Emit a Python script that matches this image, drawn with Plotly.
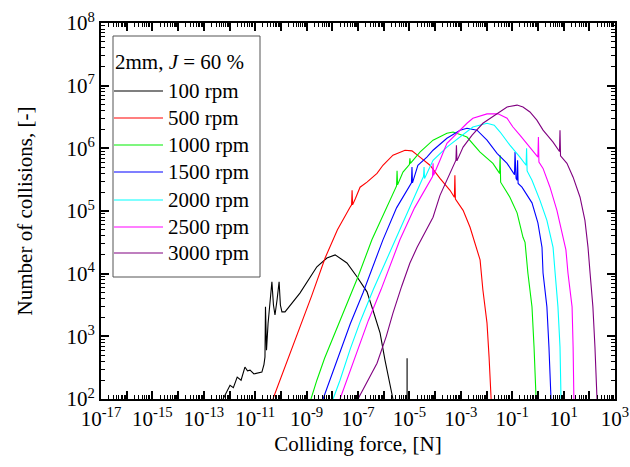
import plotly.graph_objects as go

# ---------------- data (log10 of force [N], log10 of count [-]) ----------------
series_labels = ["100 rpm", "500 rpm", "1000 rpm", "1500 rpm", "2000 rpm", "2500 rpm", "3000 rpm"]
series_colors = ["#000000", "#ff0000", "#00ee00", "#0000ff", "#00ffff", "#ff00ff", "#800080"]

force_exp_100 = [-12.25, -12.1, -11.98, -11.85, -11.7, -11.55, -11.40, -11.3, -11.20, -11.05, -10.89, -10.74,
                 -10.66, -10.62, -10.60, -10.58, -10.56, -10.50, -10.42, -10.35, -10.29, -10.23, -10.15, -10.07,
                 -10.02, -9.96, -9.84, -9.26, -8.60, -8.21, -7.89, -7.43, -7.04, -6.65, -6.42, -6.14, -5.95,
                 -5.68, -5.64, None, -5.09, -5.09]
count_exp_100 = [2.0, 2.12, 2.22, 2.18, 2.35, 2.30, 2.51, 2.45, 2.46, 2.40, 2.41, 2.43,
                 2.55, 2.67, 3.47, 2.80, 2.78, 3.2, 3.58, 3.87, 3.5, 3.34, 3.58, 3.87,
                 3.5, 3.39, 3.39, 3.69, 4.11, 4.25, 4.30, 4.17, 3.95, 3.71, 3.42, 3.05, 2.62,
                 2.06, 2.0, None, 2.0, 2.65]

force_exp_500 = [-10.31, -9.8, -9.3, -8.8, -8.28, -7.8, -7.31, -7.25, -7.23, -7.21, -7.1, -6.92, -6.65, -6.26,
                 -6.03, -5.64, -5.17, -4.9, -4.59, -4.20, -3.81, -3.42, -3.25, -3.23, -3.21, -2.91, -2.64,
                 -2.45, -2.25, -2.14, -1.98, -1.90, -1.82]
count_exp_500 = [2.0, 2.55, 3.1, 3.65, 4.25, 4.7, 5.06, 5.10, 5.33, 5.10, 5.2, 5.38, 5.46, 5.60,
                 5.73, 5.89, 5.97, 5.96, 5.86, 5.73, 5.52, 5.33, 5.22, 5.57, 5.19, 5.01, 4.74,
                 4.49, 4.22, 3.74, 3.21, 2.67, 2.0]

force_exp_1000 = [-8.83, -8.6, -8.3, -7.9, -7.5, -7.0, -6.46, -6.0, -5.6, -5.50, -5.48, -5.46, -5.25, -5.0,
                  -4.98, -4.96, -4.59, -4.08, -3.54, -3.30, -2.76, -2.25, -1.75, -1.49, -1.47, -1.45, -1.09,
                  -0.81, -0.58, -0.50, -0.39, -0.23, -0.15, -0.07]
count_exp_1000 = [2.0, 2.3, 2.65, 3.05, 3.45, 3.95, 4.54, 4.95, 5.3, 5.40, 5.64, 5.42, 5.62, 5.74,
                  5.84, 5.76, 5.94, 6.13, 6.24, 6.26, 6.18, 5.94, 5.76, 5.60, 5.89, 5.46, 5.22,
                  4.97, 4.58, 4.50, 4.01, 3.47, 2.83, 2.0]

force_exp_1500 = [-8.36, -8.1, -7.7, -7.3, -6.8, -6.03, -5.5, -4.92, -4.90, -4.88, -4.67, -4.32, -4.08, -3.54,
                  -3.03, -2.76, -2.37, -1.98, -1.59, -1.20, -0.91, -0.89, -0.85, -0.81, -0.79, -0.77, -0.62,
                  -0.23, 0.0, 0.16, 0.20, 0.35, 0.43, 0.51]
count_exp_1500 = [2.0, 2.3, 2.75, 3.2, 3.7, 4.54, 5.05, 5.45, 5.70, 5.45, 5.73, 5.86, 5.97, 6.16,
                  6.29, 6.32, 6.29, 6.13, 5.92, 5.76, 5.58, 5.94, 5.52, 5.49, 5.81, 5.44, 5.38,
                  5.13, 4.81, 4.42, 4.01, 3.47, 2.83, 2.0]

force_exp_2000 = [-7.97, -7.7, -7.3, -6.9, -6.4, -5.56, -5.0, -4.51, -4.45, -4.43, -4.41, -4.08, -3.54, -3.03,
                  -2.53, -1.98, -1.7, -1.47, -1.09, -0.70, -0.46, -0.44, -0.42, -0.23, 0.08, 0.35, 0.59,
                  0.67, 0.78, 0.86, 0.90]
count_exp_2000 = [2.0, 2.3, 2.8, 3.25, 3.75, 4.54, 5.05, 5.50, 5.55, 5.70, 5.52, 5.81, 6.02, 6.18,
                  6.34, 6.40, 6.37, 6.26, 6.05, 5.86, 5.73, 6.00, 5.64, 5.49, 5.17, 4.85, 4.42,
                  4.01, 3.47, 2.83, 2.0]

force_exp_2500 = [-7.70, -7.4, -7.0, -6.6, -6.1, -5.37, -4.8, -4.32, -4.10, -4.08, -4.06, -3.81, -3.54, -2.76,
                  -2.53, -1.98, -1.55, -1.20, -0.97, -0.70, -0.31, 0.0, 0.02, 0.04, 0.20, 0.47, 0.74,
                  0.98, 1.09, 1.17, 1.33, 1.37, 1.40]
count_exp_2500 = [2.0, 2.35, 2.8, 3.25, 3.75, 4.54, 5.05, 5.38, 5.55, 5.76, 5.57, 5.81, 6.08, 6.40,
                  6.48, 6.55, 6.55, 6.48, 6.34, 6.21, 6.02, 5.86, 6.18, 5.78, 5.68, 5.38, 5.01,
                  4.58, 4.38, 4.01, 3.47, 2.83, 2.0]

force_exp_3000 = [-7.00, -6.6, -6.26, -5.9, -5.64, -5.3, -4.98, -4.70, -4.08, -3.81, -3.42, -3.19, -3.17, -3.15,
                  -2.91, -2.56, -2.14, -1.59, -1.20, -0.81, -0.58, -0.31, -0.04, 0.20, 0.59, 0.84, 0.86,
                  0.88, 1.13, 1.37, 1.64, 1.83, 1.95, 2.03, 2.14, 2.22, 2.30]
count_exp_3000 = [2.0, 2.3, 2.57, 3.0, 3.37, 3.8, 4.17, 4.42, 4.90, 5.25, 5.60, 5.81, 6.05, 5.80,
                  6.02, 6.21, 6.40, 6.56, 6.66, 6.69, 6.66, 6.58, 6.45, 6.29, 6.10, 5.95, 6.29,
                  5.88, 5.76, 5.54, 5.22, 4.85, 4.42, 4.01, 3.47, 2.83, 2.0]

force_exps = [force_exp_100, force_exp_500, force_exp_1000, force_exp_1500,
              force_exp_2000, force_exp_2500, force_exp_3000]
count_exps = [count_exp_100, count_exp_500, count_exp_1000, count_exp_1500,
              count_exp_2000, count_exp_2500, count_exp_3000]

x_tick_exps = list(range(-17, 4))
y_tick_exps = list(range(2, 9))
legend_title = "2mm, <i>J</i> = 60 %"

# ---------------- figure ----------------
def p10(v):
    return None if v is None else 10 ** v

fig = go.Figure()
for lab, col, fx, cy in zip(series_labels, series_colors, force_exps, count_exps):
    fig.add_trace(go.Scatter(x=[p10(v) for v in fx], y=[p10(v) for v in cy], mode="lines",
                             name=lab, line=dict(color=col, width=1.1), showlegend=False,
                             connectgaps=False))

FONT = "'Times New Roman', 'Liberation Serif', 'DejaVu Serif', serif"
L, R, T, B = 101, 615, 23, 399
W, H = 630, 467

def px(xp):
    return (xp - L) / (R - L)

def py(yp):
    return (B - yp) / (B - T)

axis_common = dict(type="log", showgrid=False, zeroline=False, showline=True, linewidth=2,
                   linecolor="black", mirror="allticks", ticks="inside", ticklen=8, tickwidth=1.5,
                   tickcolor="black", automargin=False,
                   tickfont=dict(family=FONT, size=21, color="black"),
                   minor=dict(ticks="inside", ticklen=4, tickwidth=1, tickcolor="black", dtick="D1",
                              showgrid=False))

fig.update_layout(
    width=W, height=H,
    margin=dict(l=L, r=W - R, t=T, b=H - B),
    paper_bgcolor="white", plot_bgcolor="white",
    font=dict(family=FONT, size=20, color="black"),
    xaxis=dict(range=[-17, 3], tickmode="array",
               tickvals=[10 ** k for k in x_tick_exps],
               ticktext=[("10<sup>%d</sup>" % k) if k % 2 else "" for k in x_tick_exps],
               title=dict(text="Colliding force, [N]", font=dict(family=FONT, size=21), standoff=6),
               **axis_common),
    yaxis=dict(range=[2, 8], tickmode="array",
               tickvals=[10 ** k for k in y_tick_exps],
               ticktext=["10<sup>%d</sup>" % k for k in y_tick_exps],
               title=dict(text="Number of collisions, [-]", font=dict(family=FONT, size=21), standoff=28),
               **axis_common),
)

# ---------------- legend box (drawn manually to match the sample line length) ----------------
shapes = [dict(type="rect", xref="paper", yref="paper", x0=px(113), x1=px(260), y0=py(277), y1=py(36),
               line=dict(color="#555555", width=1), fillcolor="white", layer="above")]
annotations = [dict(xref="paper", yref="paper", x=px(113), y=py(62), text=legend_title, showarrow=False,
                    xanchor="left", yanchor="middle", font=dict(family=FONT, size=21, color="black"))]
row_y = [91, 118, 145, 172, 200, 227, 253]
for lab, col, yy in zip(series_labels, series_colors, row_y):
    shapes.append(dict(type="line", xref="paper", yref="paper", x0=px(114), x1=px(163),
                       y0=py(yy), y1=py(yy), line=dict(color=col, width=1.1), layer="above"))
    annotations.append(dict(xref="paper", yref="paper", x=px(166), y=py(yy), text=lab, showarrow=False,
                            xanchor="left", yanchor="middle",
                            font=dict(family=FONT, size=21, color="black")))
fig.update_layout(shapes=shapes, annotations=annotations)

fig.write_html("out.html", config={"displayModeBar": False},
               post_script="document.body.style.margin='0';document.body.style.overflow='hidden';")
